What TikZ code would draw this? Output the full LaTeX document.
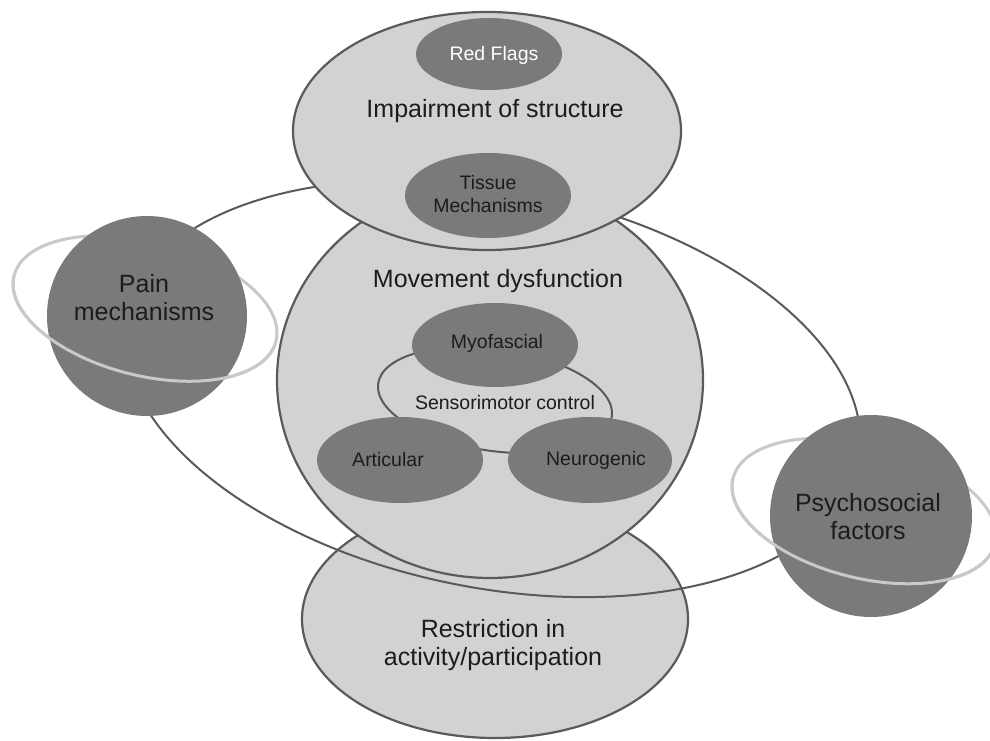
\documentclass[tikz,border=0pt]{standalone}
\usepackage{fontspec}
\setmainfont{Liberation Sans}
\usetikzlibrary{shapes.geometric}
\definecolor{lightfill}{HTML}{D2D2D2}
\definecolor{darkfill}{HTML}{7A7A7A}
\definecolor{edgegray}{HTML}{5A5A5A}
\definecolor{ringgray}{HTML}{C9C9C9}
\definecolor{ink}{HTML}{1C1C1C}
\begin{document}
\begin{tikzpicture}[x=1pt,y=1pt,
  oval/.style={ellipse, inner sep=0pt, fill=lightfill, draw=edgegray, line width=2.2pt},
  core/.style={ellipse, inner sep=0pt, fill=darkfill},
  planet/.style={circle, inner sep=0pt, fill=darkfill, minimum size=#1},
  bigtext/.style={font=\fontsize{25}{28}\selectfont, text=ink, align=center, inner sep=0pt},
  smalltext/.style={font=\fontsize{19.5}{23}\selectfont, text=ink, align=center, inner sep=0pt},
  orbitline/.style={draw=edgegray, line width=2pt},
  ringline/.style={draw=ringgray, line width=3pt}]
\useasboundingbox[fill=white] (0,0) rectangle (990,740);

% activity / participation (lowest layer)
\node[oval, minimum width=386pt, minimum height=238pt] (restrict) at (495,121) {};

% movement dysfunction sphere with its three components
\node[oval, minimum width=426pt, minimum height=396pt] (movement) at (490,360) {};
\coordinate (smc) at (495,340);
\draw[draw=edgegray, line width=2pt, rotate around={-8:(smc)}] (smc) ellipse [x radius=118pt, y radius=51pt];
\node[core, minimum width=166pt, minimum height=84pt] (myo) at (495,395) {};
\node[core, minimum width=166pt, minimum height=86pt] (artic) at (400,280) {};
\node[core, minimum width=164pt, minimum height=86pt] (neuro) at (590,280) {};

% large orbit linking pain and psychosocial factors
\coordinate (orbitc) at (492.5,351.3);
\draw[orbitline, rotate around={-11.3:(orbitc)}] (orbitc) ellipse [x radius=373pt, y radius=199pt];

% impairment of structure
\node[oval, minimum width=388pt, minimum height=238pt] (impair) at (487,609) {};
\node[core, minimum width=146pt, minimum height=72pt] (redflags) at (489,686) {};
\node[core, minimum width=166pt, minimum height=85pt] (tissue) at (488,544.5) {};

% pain mechanisms planet
\coordinate (painring) at (145,431.5);
\draw[ringline, rotate around={-14:(painring)}] (painring) ellipse [x radius=135pt, y radius=67pt];
\node[planet=200pt] (pain) at (147,424) {};
\begin{scope}[shift={(painring)}, rotate=-14]
  \draw[ringline] (-135,0) arc [start angle=180, end angle=360, x radius=135pt, y radius=67pt];
\end{scope}

% psychosocial factors planet
\coordinate (psyring) at (864,229);
\draw[ringline, rotate around={-14:(psyring)}] (psyring) ellipse [x radius=135pt, y radius=67pt];
\node[planet=202pt] (psycho) at (871,224) {};
\begin{scope}[shift={(psyring)}, rotate=-14]
  \draw[ringline] (-135,0) arc [start angle=180, end angle=360, x radius=135pt, y radius=67pt];
\end{scope}

% labels
\node[smalltext, text=white] (tRed) at (494,685) {Red Flags};
\node[bigtext] (tImpair) at (495,629) {Impairment of structure};
\node[smalltext] (tTissue) at (488,546) {Tissue\\Mechanisms};
\node[bigtext] (tMove) at (498,459) {Movement dysfunction};
\node[smalltext] (tMyo) at (497,397) {Myofascial};
\node[smalltext] (tSmc) at (505,337) {Sensorimotor control};
\node[smalltext] (tArt) at (388,280) {Articular};
\node[smalltext] (tNeuro) at (596,280) {Neurogenic};
\node[bigtext] (tRestrict) at (493,95) {Restriction in\\activity/participation};
\node[bigtext] (tPain) at (144,442) {Pain\\mechanisms};
\node[bigtext] (tPsycho) at (868,223) {Psychosocial\\factors};
\end{tikzpicture}
\end{document}
